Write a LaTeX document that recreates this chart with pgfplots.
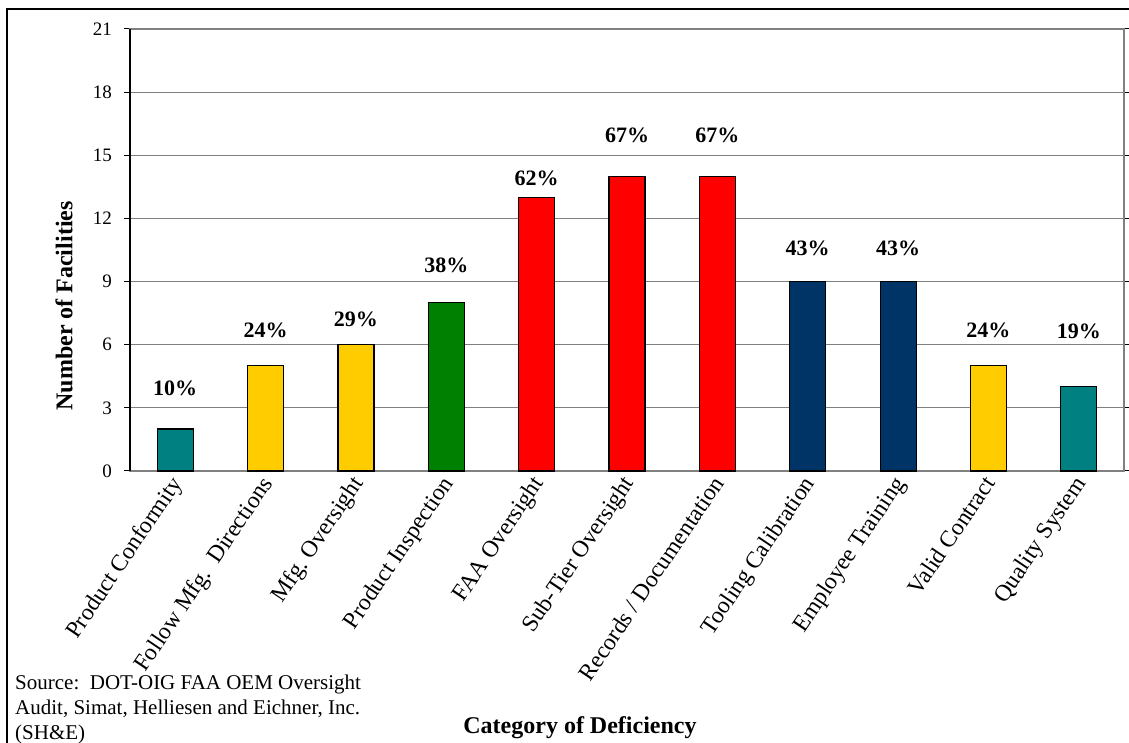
\documentclass[border=0pt]{standalone}
\usepackage{pgfplots}
\pgfplotsset{compat=1.18}
\usepackage{fontspec}
\setmainfont{Liberation Serif}
\definecolor{cteal}{RGB}{0,128,128}
\definecolor{cgold}{RGB}{255,204,0}
\definecolor{cgreen}{RGB}{0,128,0}
\definecolor{cred}{RGB}{255,0,0}
\definecolor{cnavy}{RGB}{0,51,102}
\begin{document}
\begin{tikzpicture}
\useasboundingbox (0,0) rectangle (1129pt,743pt);
\draw[black, line width=1.3pt] (7pt,-20pt) -- (7pt,734pt) -- (1150pt,734pt);
\begin{axis}[
  at={(130pt,272pt)}, anchor=south west,
  scale only axis, width=994pt, height=442pt,
  xmin=-0.5, xmax=10.5, ymin=0, ymax=21,
  ytick={0,3,6,9,12,15,18,21},
  yticklabels={0,3,6,9,12,15,18,21},
  xtick={0,...,10},
  xticklabels={Product Conformity, Follow Mfg.\ \ Directions, Mfg.\ Oversight, Product Inspection, FAA Oversight, Sub-Tier Oversight, Records / Documentation, Tooling Calibration, Employee Training, Valid Contract, Quality System},
  x tick style={draw=none},
  y tick style={black, line width=1pt},
  tick align=outside, major tick length=6pt,
  ymajorgrids, grid style={gray, line width=1pt},
  axis line style={gray, line width=1.5pt},
  yticklabel style={font=\fontsize{19}{21}\selectfont, anchor=east, inner sep=0pt, xshift=-12pt},
  xticklabel style={xshift=-6pt, yshift=3pt, font=\fontsize{23.5}{25}\selectfont, rotate=56, anchor=north east, inner sep=0pt},
  xlabel={Category of Deficiency},
  ylabel={Number of Facilities},
  every axis x label/.style={at={(axis description cs:0.4527,-0.5928)}, anchor=base, font=\bfseries\fontsize{24}{26}\selectfont},
  every axis y label/.style={at={(axis description cs:-0.0664,0.3733)}, rotate=90, anchor=center, font=\bfseries\fontsize{24}{26}\selectfont},
  ybar, bar width=36pt,
  clip=false,
]
\addplot[fill=cteal, draw=black, line width=1.2pt, /pgf/bar shift=0pt] coordinates {(0,2) (10,4)};
\addplot[fill=cgold, draw=black, line width=1.2pt, /pgf/bar shift=0pt] coordinates {(1,5) (2,6) (9,5)};
\addplot[fill=cgreen, draw=black, line width=1.2pt, /pgf/bar shift=0pt] coordinates {(3,8)};
\addplot[fill=cred, draw=black, line width=1.2pt, /pgf/bar shift=0pt] coordinates {(4,13) (5,14) (6,14)};
\addplot[fill=cnavy, draw=black, line width=1.2pt, /pgf/bar shift=0pt] coordinates {(7,9) (8,9)};
\addplot[sharp plot, draw=none, mark=none, nodes near coords, point meta=explicit symbolic,
  every node near coord/.style={anchor=center, inner sep=0pt, font=\bfseries\fontsize{22}{24}\selectfont}]
  coordinates {(0,3.94)[10\%] (1,6.70)[24\%] (2,7.22)[29\%] (3,9.79)[38\%] (4,13.90)[62\%] (5,15.96)[67\%] (6,15.96)[67\%] (7,10.59)[43\%] (8,10.59)[43\%] (9,6.70)[24\%] (10,6.65)[19\%]};
\draw[black, line width=1.5pt] (rel axis cs:0,0) -- (rel axis cs:0,1);
\end{axis}
\node[anchor=base west, inner sep=0pt, font=\fontsize{21}{25}\selectfont] at (15pt,53pt) {Source:\ \ DOT-OIG FAA OEM Oversight};
\node[anchor=base west, inner sep=0pt, font=\fontsize{21}{25}\selectfont] at (15pt,28pt) {Audit, Simat, Helliesen and Eichner, Inc.};
\node[anchor=base west, inner sep=0pt, font=\fontsize{21}{25}\selectfont] at (15pt,3pt) {(SH\&E)};
\end{tikzpicture}
\end{document}
